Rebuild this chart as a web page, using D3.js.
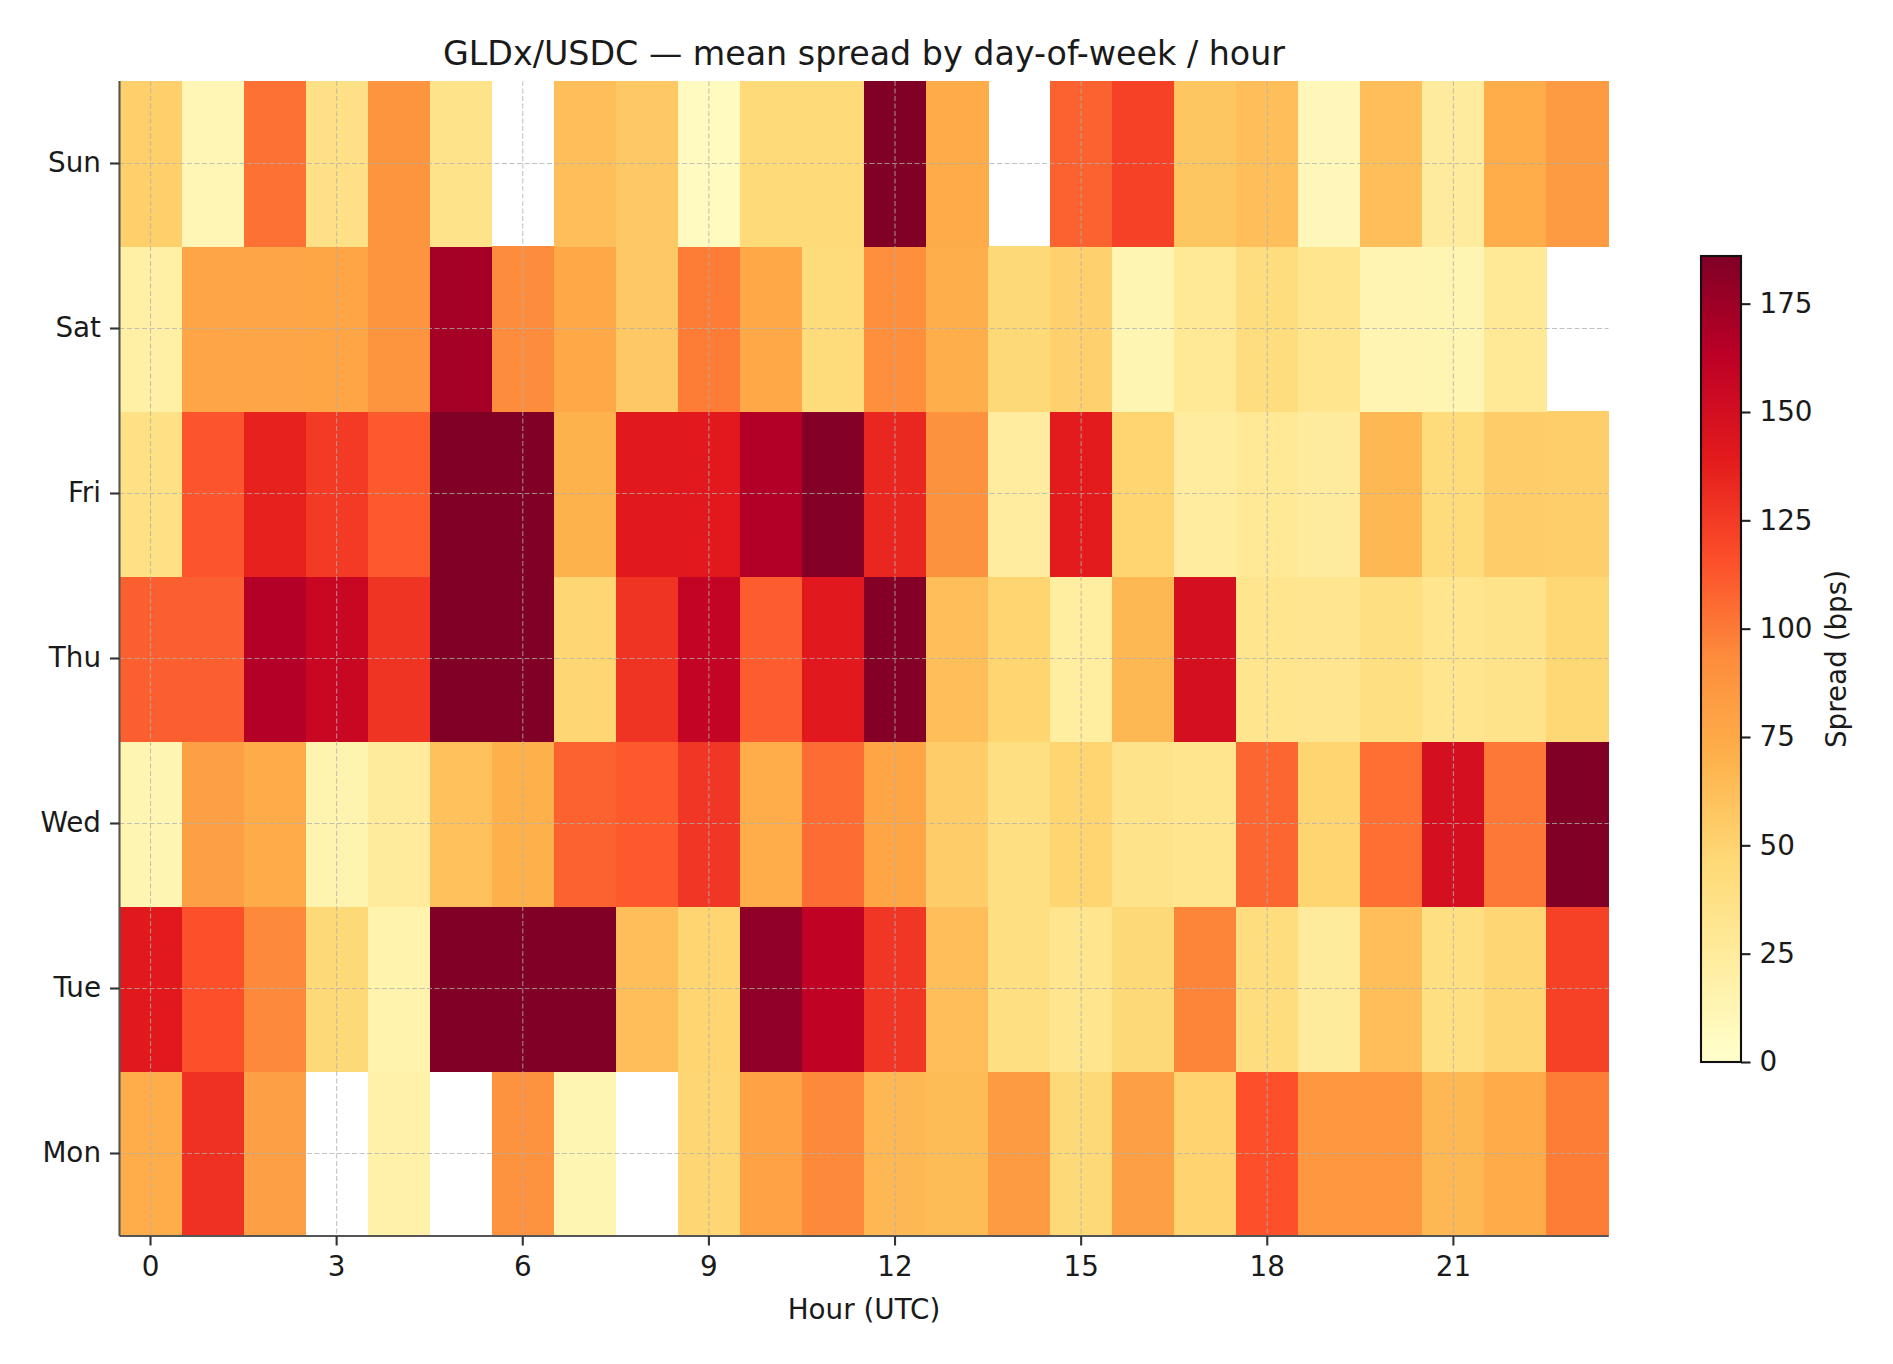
<!DOCTYPE html>
<html>
<head>
<meta charset="utf-8">
<script src="https://cdn.jsdelivr.net/npm/d3@7"></script>
<style>
  html, body { margin: 0; padding: 0; background: #fff; }
  svg { display: block; font-family: "DejaVu Sans", sans-serif; }
</style>
</head>
<body>
<svg id="chart" width="1893" height="1364"></svg>
<script>
// ---- data ----
const hours = d3.range(24);
const days = ["Mon", "Tue", "Wed", "Thu", "Fri", "Sat", "Sun"];
const xTickValues = [0, 3, 6, 9, 12, 15, 18, 21];
const cbarTicks = [0, 25, 50, 75, 100, 125, 150, 175];
const vmin = 0, vmax = 186;
// mean spread (bps); null = no data
const mon = [73, 129, 82, null, 18, null, 89, 13, null, 48, 80, 94, 66, 64, 84, 46, 82, 50, 116, 86, 86, 66, 74, 99];
const tue = [140, 116, 94, 46, 16, 190, 190, 190, 62, 49, 180, 161, 127, 62, 40, 33, 46, 96, 42, 26, 62, 40, 48, 122];
const wed = [13, 82, 74, 15, 26, 61, 71, 109, 112, 127, 73, 105, 78, 54, 40, 49, 35, 33, 107, 49, 104, 149, 101, 190];
const thu = [110, 110, 166, 156, 128, 190, 190, 48, 128, 159, 111, 141, 184, 62, 49, 23, 66, 149, 33, 32, 40, 33, 35, 47];
const fri = [38, 114, 136, 125, 112, 190, 190, 70, 140, 141, 167, 184, 134, 90, 24, 139, 49, 24, 29, 25, 66, 44, 54, 53];
const sat = [20, 77, 77, 78, 88, 172, 93, 76, 56, 99, 76, 43, 92, 72, 46, 51, 13, 28, 42, 33, 14, 13, 28, null];
const sun = [52, 12, 103, 37, 88, 35, null, 62, 56, 7, 45, 45, 190, 74, null, 109, 122, 58, 62, 10, 62, 25, 73, 84];
const rows = [mon, tue, wed, thu, fri, sat, sun];

// ---- layout ----
const svg = d3.select("#chart");
const L = 119.5, R = 1608.5, T = 81, B = 1236;
const fs = 27.8;
const tick = 9.5, lw = 2.1;

const x = d3.scaleBand().domain(hours).range([L, R]).padding(0);
const y = d3.scaleBand().domain(days).range([B, T]).padding(0);

// matplotlib YlOrRd
const ylorrd = ["#ffffcc", "#ffeda0", "#fed976", "#feb24c", "#fd8d3c", "#fc4e2a", "#e31a1c", "#bd0026", "#800026"];
const color = d3.scaleLinear()
  .domain(d3.range(9).map(i => vmin + (vmax - vmin) * i / 8))
  .range(ylorrd)
  .interpolate(d3.interpolateRgb)
  .clamp(true);

const cells = [];
rows.forEach((r, di) => r.forEach((v, h) => cells.push({ day: days[di], hour: h, v })));

svg.append("g").selectAll("rect")
  .data(cells.filter(d => d.v !== null))
  .join("rect")
  .attr("x", d => x(d.hour))
  .attr("y", d => y(d.day))
  .attr("width", x.bandwidth() + 0.5)
  .attr("height", y.bandwidth() + 0.5)
  .attr("fill", d => color(d.v))
  .attr("shape-rendering", "crispEdges");

// grid
const grid = svg.append("g").attr("stroke", "#b0b0b0").attr("stroke-width", 1.1)
  .attr("stroke-dasharray", "5,2.5").attr("opacity", 0.75);
xTickValues.forEach(h => {
  const cx = x(h) + x.bandwidth() / 2;
  grid.append("line").attr("x1", cx).attr("x2", cx).attr("y1", T).attr("y2", B);
});
days.forEach(d => {
  const cy = y(d) + y.bandwidth() / 2;
  grid.append("line").attr("x1", L).attr("x2", R).attr("y1", cy).attr("y2", cy);
});

// axes
const xAxis = d3.axisBottom(x).tickValues(xTickValues).tickSize(tick).tickPadding(11).tickSizeOuter(0);
const gx = svg.append("g").attr("transform", `translate(0,${B})`).call(xAxis);
const yAxis = d3.axisLeft(y).tickSize(tick).tickPadding(9).tickSizeOuter(0);
const gy = svg.append("g").attr("transform", `translate(${L},0)`).call(yAxis);
[gx, gy].forEach(g => {
  g.selectAll("text").attr("font-size", fs).attr("fill", "#1a1a1a").attr("font-family", "DejaVu Sans");
  g.selectAll("line").attr("stroke", "#333").attr("stroke-width", lw);
  g.select(".domain").attr("stroke", "#555").attr("stroke-width", lw);
});
gx.select(".domain").attr("d", `M${L},0H${R}`);
gy.select(".domain").attr("d", `M0,${B}V${T}`);

// labels
svg.append("text").attr("x", (L + R) / 2).attr("y", 1319).attr("text-anchor", "middle")
  .attr("font-size", fs).attr("fill", "#1a1a1a").text("Hour (UTC)");
svg.append("text").attr("x", (L + R) / 2).attr("y", 65).attr("text-anchor", "middle")
  .attr("font-size", 33.3).attr("fill", "#1a1a1a").text("GLDx/USDC — mean spread by day-of-week / hour");

// colorbar
const cbL = 1701, cbW = 40, cbT = 256, cbB = 1062;
const defs = svg.append("defs");
const grad = defs.append("linearGradient").attr("id", "cbgrad")
  .attr("x1", 0).attr("y1", 1).attr("x2", 0).attr("y2", 0);
ylorrd.forEach((c, i) => grad.append("stop").attr("offset", i / 8).attr("stop-color", c));
svg.append("rect").attr("x", cbL).attr("y", cbT).attr("width", cbW).attr("height", cbB - cbT)
  .attr("fill", "url(#cbgrad)");
const cy = d3.scaleLinear().domain([vmin, vmax]).range([cbB, cbT]);
const cAxis = d3.axisRight(cy).tickValues(cbarTicks).tickSize(tick).tickPadding(9).tickSizeOuter(0);
const gc = svg.append("g").attr("transform", `translate(${cbL + cbW},0)`).call(cAxis);
gc.select(".domain").remove();
gc.selectAll("text").attr("font-size", fs).attr("fill", "#1a1a1a").attr("font-family", "DejaVu Sans");
gc.selectAll("line").attr("stroke", "#222").attr("stroke-width", lw);
svg.append("rect").attr("x", cbL).attr("y", cbT).attr("width", cbW).attr("height", cbB - cbT)
  .attr("fill", "none").attr("stroke", "#111").attr("stroke-width", lw);
svg.append("text").attr("transform", `translate(1836,${(cbT + cbB) / 2}) rotate(-90)`)
  .attr("text-anchor", "middle").attr("dominant-baseline", "central")
  .attr("font-size", fs).attr("fill", "#1a1a1a").text("Spread (bps)");
</script>
</body>
</html>
